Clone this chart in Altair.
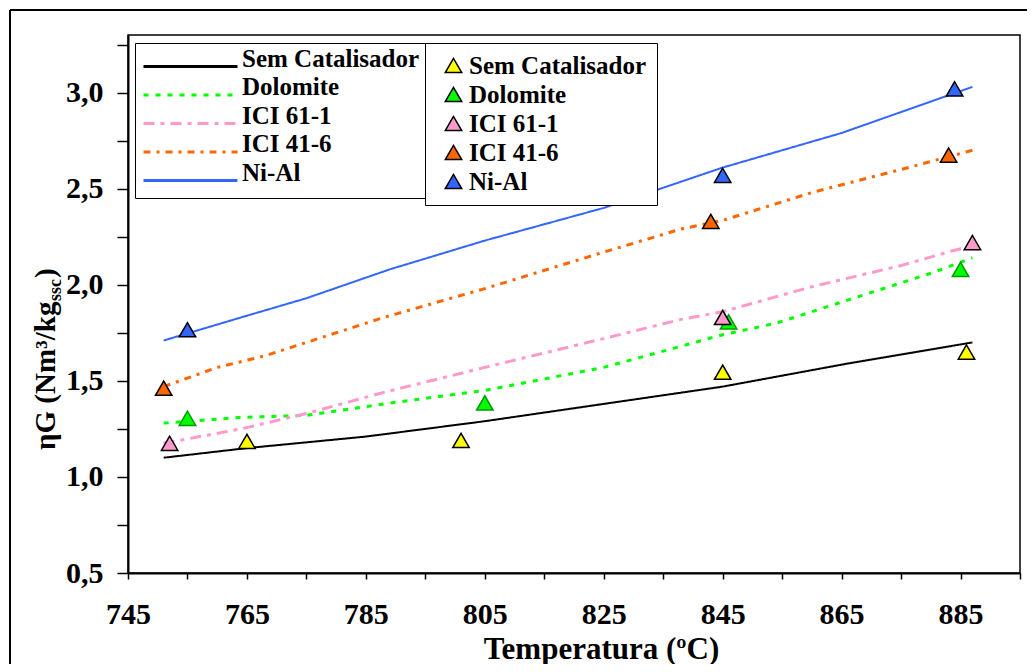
import altair as alt
import pandas as pd

series = ["Sem Catalisador", "Dolomite", "ICI 61-1", "ICI 41-6", "Ni-Al"]
line_colors = ["#000000", "#00FF00", "#FF99CC", "#FF6600", "#3366FF"]
fill_colors = ["#FFFF00", "#00FF00", "#FF99CC", "#FF6600", "#3366FF"]
dashes = [[1, 0], [5, 7], [11, 6, 4, 6], [7, 6, 3, 6], [1, 0]]
line_widths = [2, 3, 3, 3, 2]

# fitted curves (temperature, eta)
sem_lx = [751, 765, 785, 805, 825, 845, 866, 887]
sem_ly = [1.10, 1.15, 1.21, 1.29, 1.38, 1.47, 1.59, 1.70]
dol_lx = [751, 764, 775, 788, 805, 825, 838, 845, 854, 868, 880, 887]
dol_ly = [1.28, 1.31, 1.32, 1.38, 1.45, 1.57, 1.68, 1.74, 1.80, 1.94, 2.06, 2.14]
i61_lx = [751, 764, 775, 788, 805, 825, 838, 845, 860, 875, 884, 887]
i61_ly = [1.175, 1.25, 1.33, 1.44, 1.57, 1.72, 1.82, 1.86, 1.99, 2.10, 2.18, 2.20]
i41_lx = [751, 760, 768, 775, 783, 788, 805, 825, 838, 845, 860, 875, 887]
i41_ly = [1.47, 1.57, 1.63, 1.70, 1.78, 1.83, 1.98, 2.17, 2.29, 2.335, 2.48, 2.60, 2.70]
nia_lx = [751, 764, 775, 789, 805, 825, 845, 855, 865, 887]
nia_ly = [1.71, 1.83, 1.93, 2.08, 2.23, 2.40, 2.61, 2.70, 2.79, 3.03]

# experimental points
sem_px = [765, 801, 845, 886]
sem_py = [1.185, 1.19, 1.545, 1.65]
dol_px = [755, 805, 846, 885]
dol_py = [1.305, 1.385, 1.807, 2.08]
i61_px = [752, 845, 887]
i61_py = [1.175, 1.83, 2.22]
i41_px = [751, 843, 883]
i41_py = [1.462, 2.33, 2.675]
nia_px = [755, 845, 884]
nia_py = [1.766, 2.57, 3.02]

x_ticks = list(range(745, 896, 10))
y_ticks = [0.5 + 0.25 * i for i in range(12)]

y_title_main = "ηG (Nm³/kg"
y_title_sub = "ssc"
y_title_end = ")"
x_title = "Temperatura (ºC)"

FONT = "Liberation Serif"

rows = []
for s, xs, ys, w in zip(series, [sem_lx, dol_lx, i61_lx, i41_lx, nia_lx],
                        [sem_ly, dol_ly, i61_ly, i41_ly, nia_ly], line_widths):
    for a, b in zip(xs, ys):
        rows.append({"series": s, "T": a, "eta": b, "w": w})
df_lines = pd.DataFrame(rows)

prow = []
for s, xs, ys in zip(series, [sem_px, dol_px, i61_px, i41_px, nia_px],
                     [sem_py, dol_py, i61_py, i41_py, nia_py]):
    for a, b in zip(xs, ys):
        prow.append({"series": s, "pseries": "p_" + s, "T": a, "eta": b})
df_pts = pd.DataFrame(prow)
p_domain = ["p_" + s for s in series]

xscale = alt.Scale(domain=[745, 895], nice=False, zero=False)
yscale = alt.Scale(domain=[0.5, 3.3], nice=False, zero=False)

xaxis = alt.Axis(
    values=x_ticks,
    labelExpr="((datum.value - 745) % 20 == 0) ? format(datum.value, 'd') : ''",
    labelFont=FONT, labelFontWeight="bold", labelFontSize=30, labelColor="black",
    labelPadding=20, labelFlush=False, labelOverlap=False,
    tickSize=6, tickColor="black", tickWidth=1.5,
    domainColor="black", domainWidth=2, grid=False,
    title=x_title, titleFont=FONT, titleFontWeight="bold", titleFontSize=31,
    titleColor="black", titleX=473, titleY=85, titleBaseline="alphabetic",
    titleAnchor="middle",
)
yaxis = alt.Axis(
    values=y_ticks,
    labelExpr="(round(datum.value * 4) % 2 == 0) ? replace(format(datum.value, '.1f'), '.', ',') : ''",
    labelFont=FONT, labelFontWeight="bold", labelFontSize=30, labelColor="black",
    labelPadding=14, labelFlush=False, labelOverlap=False,
    tickSize=11, tickColor="black", tickWidth=1.5,
    domainColor="black", domainWidth=2, grid=False, title=None,
)

line_legend = alt.Legend(
    title=None, orient="none", legendX=7, legendY=8,
    symbolType="M-9.4,0H9.4", symbolSize=100, symbolStrokeWidth=3,
    symbolOffset=32, labelOffset=39, labelLimit=400,
    labelFont=FONT, labelFontWeight="bold", labelFontSize=25, labelColor="black",
    labelBaseline="alphabetic",
    strokeColor="black", fillColor="white", padding=11, rowPadding=1.5,
)

lines = alt.Chart(df_lines).mark_line().encode(
    x=alt.X("T:Q", scale=xscale, axis=xaxis),
    y=alt.Y("eta:Q", scale=yscale, axis=yaxis),
    stroke=alt.Stroke("series:N", scale=alt.Scale(domain=series, range=line_colors),
                      legend=line_legend),
    strokeDash=alt.StrokeDash("series:N", scale=alt.Scale(domain=series, range=dashes),
                              legend=line_legend),
    strokeWidth=alt.StrokeWidth("w:Q", scale=None),
    order="T:Q",
)

pt_legend = alt.Legend(
    title=None, orient="none", legendX=297, legendY=8,
    symbolType="triangle-up", symbolSize=270, symbolStrokeColor="black",
    symbolStrokeWidth=1.5, symbolOpacity=1, symbolOffset=6,
    labelFont=FONT, labelFontWeight="bold", labelFontSize=25, labelColor="black",
    labelOffset=3, labelLimit=400, labelExpr="substring(datum.label, 2)",
    strokeColor="black", fillColor="white", padding=10, rowPadding=3,
)
fill_enc = alt.Fill("pseries:N", scale=alt.Scale(domain=p_domain, range=fill_colors),
                    legend=pt_legend)

pts_green = alt.Chart(df_pts).transform_filter(alt.datum.series == "Dolomite").mark_point(
    shape="triangle-up", filled=True, size=270, stroke="#009900", strokeWidth=1.5, opacity=1
).encode(x="T:Q", y="eta:Q", fill=fill_enc)

pts_other = alt.Chart(df_pts).transform_filter(alt.datum.series != "Dolomite").mark_point(
    shape="triangle-up", filled=True, size=270, stroke="black", strokeWidth=1.5, opacity=1
).encode(x="T:Q", y="eta:Q", fill=fill_enc)

tdf = pd.DataFrame({"a": [0]})
t1 = alt.Chart(tdf).mark_text(
    text=y_title_main, angle=270, align="left", baseline="alphabetic",
    font=FONT, fontWeight="bold", fontSize=29, color="black"
).encode(x=alt.value(-73), y=alt.value(415))
t2 = alt.Chart(tdf).mark_text(
    text=y_title_sub, angle=270, align="left", baseline="alphabetic",
    font=FONT, fontWeight="bold", fontSize=18, color="black"
).encode(x=alt.value(-67), y=alt.value(266))
t3 = alt.Chart(tdf).mark_text(
    text=y_title_end, angle=270, align="left", baseline="alphabetic",
    font=FONT, fontWeight="bold", fontSize=29, color="black"
).encode(x=alt.value(-73), y=alt.value(243))

frame_left = alt.Chart(tdf).mark_rule(color="black", strokeWidth=2).encode(
    x=alt.value(-118), y=alt.value(-25), y2=alt.value(720))
frame_top = alt.Chart(tdf).mark_rule(color="black", strokeWidth=2).encode(
    x=alt.value(-118), x2=alt.value(1000), y=alt.value(-25))

chart = alt.layer(
    frame_left, frame_top, lines, pts_green, pts_other, t1, t2, t3
).properties(
    width=892, height=538,
    autosize=alt.AutoSizeParams(type="none"),
    padding={"left": 120, "top": 27, "right": 7, "bottom": 91},
    background="white",
).configure_view(stroke="black", strokeWidth=1.5)

chart.save("out.html", embed_options={"renderer": "svg", "actions": False})
